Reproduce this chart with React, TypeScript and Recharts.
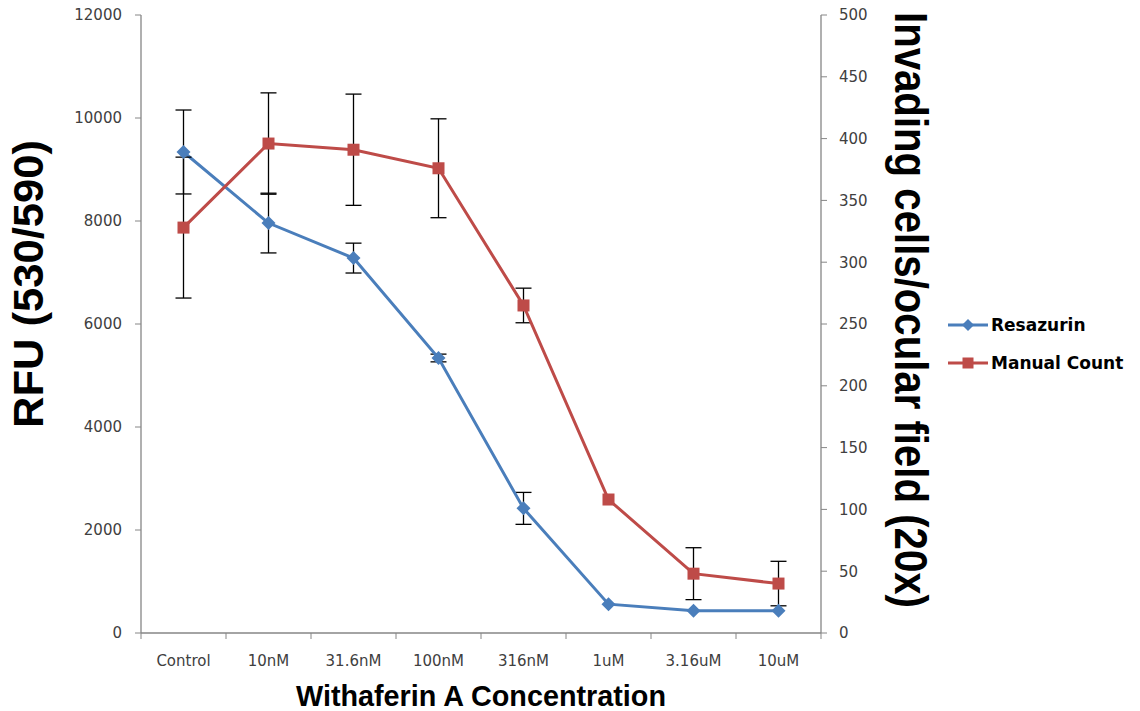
import React from 'react';
import { LineChart, Line, XAxis, YAxis, ErrorBar, Legend, Label } from 'recharts';

const concentrations = ['Control', '10nM', '31.6nM', '100nM', '316nM', '1uM', '3.16uM', '10uM'];
const resazurin = [9340, 7960, 7280, 5340, 2420, 560, 430, 430];
// null = no error bar visible in the figure
const resazurinErr = [815, 580, 290, 75, 310, null, null, null];
const manualCount = [328, 396, 391, 376, 265, 108, 48, 40];
const manualCountErr = [57, 41, 45, 40, 14, null, 21, 18];
const rfuTicks = [0, 2000, 4000, 6000, 8000, 10000, 12000];
const countTicks = [0, 50, 100, 150, 200, 250, 300, 350, 400, 450, 500];
const seriesOrder = ['Resazurin', 'Manual Count'];

const BLUE = '#4A7EBB';
const RED = '#BE4B48';
const AXIS = '#868686';
const TICK_TEXT = '#404040';

// x is numeric so ticks can sit on the category boundaries (like Excel)
const data = concentrations.map((name, i) => ({
  x: i + 0.5,
  name,
  resazurin: resazurin[i],
  resazurinErr: resazurinErr[i] ?? undefined,
  manualCount: manualCount[i],
  manualCountErr: manualCountErr[i] ?? undefined,
}));

const xTicks: number[] = [];
for (let i = 0; i <= concentrations.length; i++) {
  xTicks.push(i);
  if (i < concentrations.length) xTicks.push(i + 0.5);
}

const Diamond = (props: any) => {
  const { cx, cy, half = 7 } = props;
  if (cx == null || cy == null) return null;
  const h = half;
  return <polygon points={`${cx},${cy - h} ${cx + h},${cy} ${cx},${cy + h} ${cx - h},${cy}`} fill={BLUE} />;
};

const Square = (props: any) => {
  const { cx, cy, s = 12 } = props;
  if (cx == null || cy == null) return null;
  return <rect x={cx - s / 2} y={cy - s / 2} width={s} height={s} fill={RED} />;
};

const XTick = (props: any) => {
  const { x, y, payload } = props;
  const v = payload.value;
  if (Number.isInteger(v)) {
    return <line x1={x} y1={y} x2={x} y2={y + 6} stroke={AXIS} strokeWidth={1} />;
  }
  const label = concentrations[Math.floor(v)];
  return (
    <text x={x} y={y + 33} textAnchor="middle" fontSize={15} fontFamily="DejaVu Sans" fill={TICK_TEXT}>
      {label}
    </text>
  );
};

const renderLegend = (props: any) => {
  const payload = [...(props.payload || [])].sort(
    (a: any, b: any) => seriesOrder.indexOf(a.value) - seriesOrder.indexOf(b.value)
  );
  return (
    <div style={{ fontFamily: 'DejaVu Sans', fontWeight: 'bold', fontSize: 17, color: '#000' }}>
      {payload.map((entry: any) => (
        <div key={entry.value} style={{ display: 'flex', alignItems: 'center', height: 38 }}>
          <svg width={45} height={16}>
            <line x1={2} y1={8} x2={42} y2={8} stroke={entry.color} strokeWidth={3} />
            {entry.dataKey === 'resazurin' ? <Diamond cx={22} cy={8} half={6} /> : <Square cx={22} cy={8} s={11} />}
          </svg>
          <span>{entry.value}</span>
        </div>
      ))}
    </div>
  );
};

export default function App() {
  return (
    <div style={{ position: 'absolute', left: 0, top: 0, background: '#fff' }}>
      <LineChart width={1140} height={711} data={data} margin={{ top: 15, right: 0, bottom: 0, left: 0 }}>
        <XAxis
          dataKey="x"
          type="number"
          domain={[0, 8]}
          ticks={xTicks}
          interval={0}
          height={78}
          tickSize={0}
          tickMargin={0}
          tickLine={false}
          axisLine={{ stroke: AXIS, strokeWidth: 1.3 }}
          tick={<XTick />}
        >
          <Label
            content={({ viewBox }: any) => (
              <text
                x={viewBox.x + viewBox.width / 2}
                y={viewBox.y + 73}
                textAnchor="middle"
                fontSize={30}
                fontWeight="bold"
                fontFamily="Liberation Sans"
                textLength={370}
                lengthAdjust="spacingAndGlyphs"
                fill="#000"
              >
                Withaferin A Concentration
              </text>
            )}
          />
        </XAxis>
        <YAxis
          yAxisId="left"
          width={141}
          domain={[0, 12000]}
          ticks={rfuTicks}
          interval={0}
          tickSize={6}
          tickMargin={13}
          tickLine={{ stroke: AXIS }}
          axisLine={{ stroke: AXIS, strokeWidth: 1.3 }}
          tick={{ fontSize: 15, fontFamily: 'DejaVu Sans', fill: TICK_TEXT }}
        >
          <Label
            content={({ viewBox }: any) => {
              const x = viewBox.x + 43;
              const y = viewBox.y + 269;
              return (
                <text
                  x={x}
                  y={y}
                  transform={`rotate(-90 ${x} ${y})`}
                  textAnchor="middle"
                  fontSize={42}
                  fontWeight="bold"
                  fontFamily="Liberation Sans"
                  textLength={288}
                  lengthAdjust="spacingAndGlyphs"
                  fill="#000"
                >
                  RFU (530/590)
                </text>
              );
            }}
          />
        </YAxis>
        <YAxis
          yAxisId="right"
          orientation="right"
          width={319}
          domain={[0, 500]}
          ticks={countTicks}
          interval={0}
          tickSize={6}
          tickMargin={12}
          tickLine={{ stroke: AXIS }}
          axisLine={{ stroke: AXIS, strokeWidth: 1.3 }}
          tick={{ fontSize: 15, fontFamily: 'DejaVu Sans', fill: TICK_TEXT }}
        >
          <Label
            content={({ viewBox }: any) => {
              const x = viewBox.x + 74;
              const y = viewBox.y + 295;
              return (
                <text
                  x={x}
                  y={y}
                  transform={`rotate(90 ${x} ${y})`}
                  textAnchor="middle"
                  fontSize={46}
                  fontWeight="bold"
                  fontFamily="Liberation Sans"
                  textLength={596}
                  lengthAdjust="spacingAndGlyphs"
                  fill="#000"
                >
                  Invading cells/ocular field (20x)
                </text>
              );
            }}
          />
        </YAxis>
        <Legend
          layout="vertical"
          align="center"
          verticalAlign="middle"
          content={renderLegend}
          wrapperStyle={{ left: 946, top: 306, width: 200 }}
        />
        <Line
          yAxisId="left"
          dataKey="resazurin"
          name="Resazurin"
          type="linear"
          stroke={BLUE}
          strokeWidth={3}
          dot={<Diamond />}
          activeDot={false}
          isAnimationActive={false}
        >
          <ErrorBar dataKey="resazurinErr" direction="y" width={8} stroke="#000" strokeWidth={1.3} isAnimationActive={false} />
        </Line>
        <Line
          yAxisId="right"
          dataKey="manualCount"
          name="Manual Count"
          type="linear"
          stroke={RED}
          strokeWidth={3}
          dot={<Square />}
          activeDot={false}
          isAnimationActive={false}
        >
          <ErrorBar dataKey="manualCountErr" direction="y" width={8} stroke="#000" strokeWidth={1.3} isAnimationActive={false} />
        </Line>
      </LineChart>
    </div>
  );
}
